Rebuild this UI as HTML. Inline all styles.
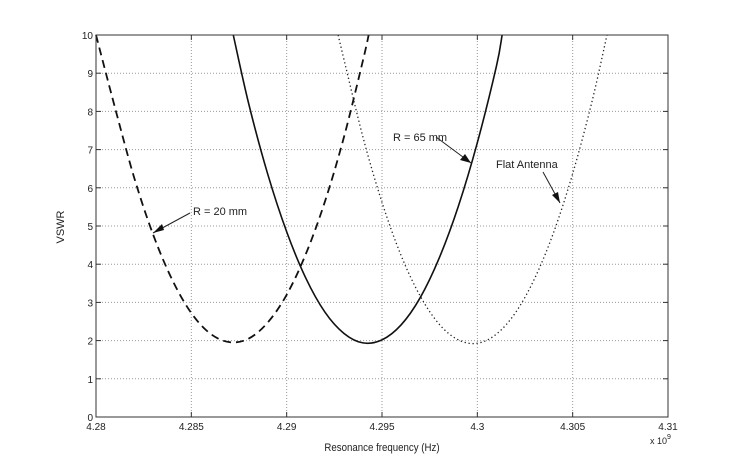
<!DOCTYPE html>
<html><head><meta charset="utf-8"><style>
html,body{margin:0;padding:0;background:#fff;}
svg{display:block;font-family:"Liberation Sans",sans-serif;}
</style></head><body>
<svg id="chart" width="739" height="470" viewBox="0 0 739 470" xmlns="http://www.w3.org/2000/svg">
<g id="grid"></g>
<g id="series"></g>
<rect x="96" y="35" width="572" height="382" fill="none" stroke="#333" stroke-width="1"/>
<g id="ticks" font-size="10" fill="#222"></g>
<text x="382" y="451" font-size="11" text-anchor="middle" fill="#222" transform="translate(382 0) scale(0.88 1) translate(-382 0)">Resonance frequency (Hz)</text>
<text x="64" y="227" font-size="11" text-anchor="middle" fill="#222" transform="rotate(-90 64 227)">VSWR</text>
<text x="650" y="444" font-size="9" fill="#222">x 10<tspan font-size="7" dy="-5">9</tspan></text>
<g>
<text x="193" y="215" font-size="11" fill="#222">R = 20 mm</text>
<line x1="190" y1="213" x2="153" y2="233" stroke="#222"/>
<polygon points="153,233 162,224 164,230" fill="#111"/>
</g>
<g>
<text x="393" y="141" font-size="11" fill="#222">R = 65 mm</text>
<line x1="436" y1="137" x2="471" y2="163" stroke="#222"/>
<polygon points="471,163 460,160 465,154" fill="#111"/>
</g>
<g>
<text x="496" y="168" font-size="11" fill="#222">Flat Antenna</text>
<line x1="543" y1="172" x2="560" y2="203" stroke="#222"/>
<polygon points="560,203 552,195 558,192" fill="#111"/>
</g>
</svg>
<script>
const xTicks=[4.28,4.285,4.29,4.295,4.3,4.305,4.31];
const xTickLabels=["4.28","4.285","4.29","4.295","4.3","4.305","4.31"];
const yTicks=[0,1,2,3,4,5,6,7,8,9,10];
const r20X=[4.280,4.281,4.282,4.283,4.284,4.285,4.286,4.287,4.288,4.289,4.290,4.291,4.292,4.293,4.294,4.2943];
const r20Y=[10,8.09,6.27,4.77,3.59,2.72,2.18,1.96,2.05,2.47,3.20,4.26,5.63,7.32,9.33,10];
const r65X=[4.2872,4.288,4.289,4.290,4.291,4.292,4.293,4.294,4.295,4.296,4.297,4.298,4.299,4.300,4.301,4.3013];
const r65Y=[10,8.22,6.37,4.85,3.64,2.75,2.19,1.94,2.02,2.41,3.12,4.16,5.51,7.18,9.18,10];
const flatX=[4.2927,4.293,4.294,4.295,4.296,4.297,4.298,4.299,4.300,4.301,4.302,4.303,4.304,4.305,4.306,4.3068];
const flatY=[10,9.37,7.33,5.62,4.23,3.17,2.43,2.02,1.93,2.17,2.73,3.62,4.83,6.37,8.23,10];

const X0=96,X1=668,Y0=417,Y1=35;
function sx(v){return X0+(v-4.28)/0.03*(X1-X0);}
function sy(v){return Y0-(v/10)*(Y0-Y1);}
const NS="http://www.w3.org/2000/svg";
function mk(tag,attrs,parent){const e=document.createElementNS(NS,tag);for(const k in attrs)e.setAttribute(k,attrs[k]);parent.appendChild(e);return e;}
const grid=document.getElementById('grid'),ticks=document.getElementById('ticks'),series=document.getElementById('series');
xTicks.forEach((t,i)=>{
  const x=sx(t);
  if(i>0&&i<xTicks.length-1){
    const g=mk('line',{x1:x,y1:Y1,x2:x,y2:Y0,stroke:'#999','stroke-dasharray':'1 2'},grid);
    
    
  }
  const tk=mk('line',{x1:x,y1:Y0,x2:x,y2:Y0-5,stroke:'#333'},ticks);
  
  
  const tk2=mk('line',{x1:x,y1:Y1,x2:x,y2:Y1+5,stroke:'#333'},ticks);
  
  
  const lb=mk('text',{x:x,y:Y0+13,'text-anchor':'middle'},ticks);
  lb.textContent=xTickLabels[i];
  
  
});
yTicks.forEach(t=>{
  const y=sy(t);
  if(t>0&&t<10){
    const g=mk('line',{x1:X0,y1:y,x2:X1,y2:y,stroke:'#999','stroke-dasharray':'1 2'},grid);
    
    
  }
  const tk=mk('line',{x1:X0,y1:y,x2:X0+5,y2:y,stroke:'#333'},ticks);
  
  
  const tk2=mk('line',{x1:X1,y1:y,x2:X1-5,y2:y,stroke:'#333'},ticks);
  
  
  const lb=mk('text',{x:X0-3,y:y+4,'text-anchor':'end'},ticks);
  lb.textContent=String(t);
  
  
});
function pathFor(xs,ys){
  const p=xs.map((x,i)=>[sx(x),sy(ys[i])]);
  let d='M'+p[0][0].toFixed(2)+','+p[0][1].toFixed(2);
  for(let i=0;i<p.length-1;i++){
    const a=p[Math.max(0,i-1)],b=p[i],c=p[i+1],e=p[Math.min(p.length-1,i+2)];
    const c1=[b[0]+(c[0]-a[0])/6,b[1]+(c[1]-a[1])/6],c2=[c[0]-(e[0]-b[0])/6,c[1]-(e[1]-b[1])/6];
    d+=' C'+c1[0].toFixed(2)+','+c1[1].toFixed(2)+' '+c2[0].toFixed(2)+','+c2[1].toFixed(2)+' '+c[0].toFixed(2)+','+c[1].toFixed(2);
  }
  return d;
}
const s1=mk('path',{d:pathFor(r20X,r20Y),fill:'none',stroke:'#111','stroke-width':1.8,'stroke-dasharray':'8 5'},series);


const s2=mk('path',{d:pathFor(r65X,r65Y),fill:'none',stroke:'#111','stroke-width':1.6},series);


const s3=mk('path',{d:pathFor(flatX,flatY),fill:'none',stroke:'#222','stroke-width':1.3,'stroke-dasharray':'1.3 2.7'},series);


</script>
</body></html>
